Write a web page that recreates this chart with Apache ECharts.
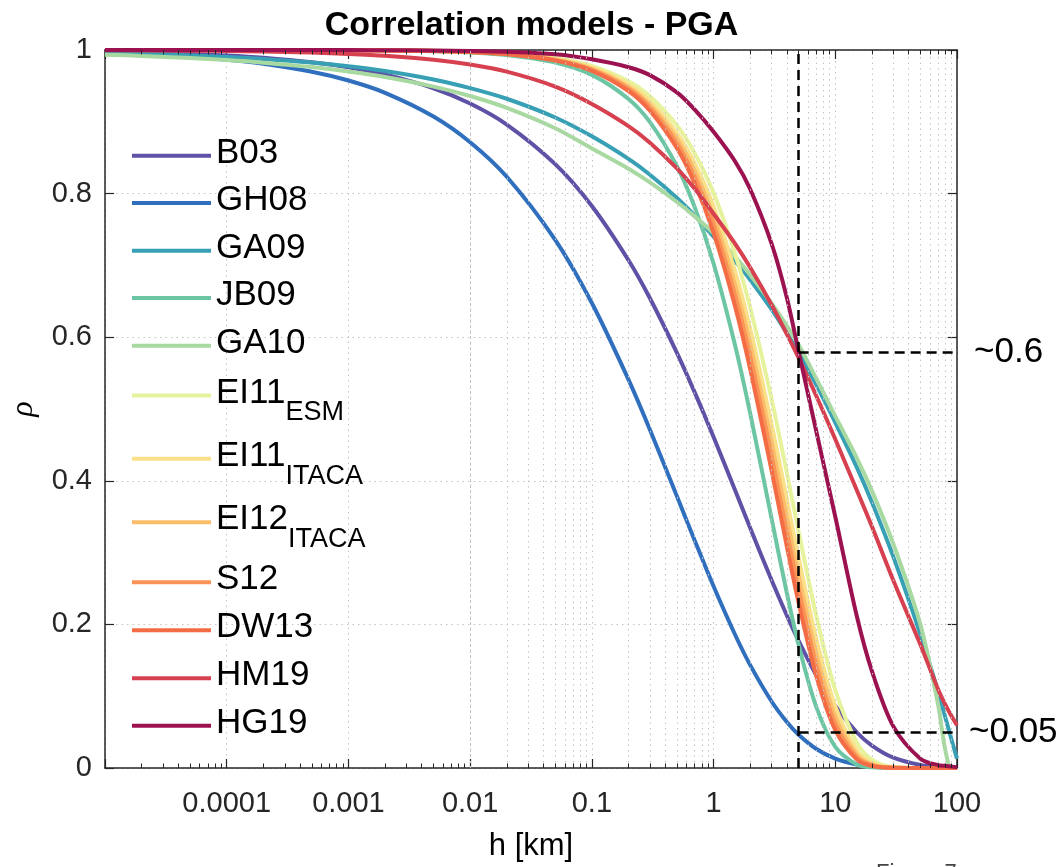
<!DOCTYPE html>
<html>
<head>
<meta charset="utf-8">
<title>Correlation models - PGA</title>
<script src="https://cdn.jsdelivr.net/npm/echarts@6/dist/echarts.min.js"></script>
<style>
  html, body { margin: 0; padding: 0; background: #fff; }
  #chart { width: 1063px; height: 867px; }
</style>
</head>
<body>
<div id="chart"></div>
<script>
// separation distance h [km] (x)
const distances = [0.00001, 0.00002, 0.00005, 0.0001, 0.0002, 0.0005, 0.001, 0.002, 0.005, 0.01, 0.02, 0.05, 0.1, 0.2, 0.3, 0.5, 0.7, 1, 1.5, 2, 3, 4, 5, 7, 10, 15, 20, 30, 50, 70, 80, 90, 100];

// correlation rho, one value per distance
const b03 = [0.9976, 0.9965, 0.9945, 0.9923, 0.9891, 0.9828, 0.9758, 0.966, 0.9467, 0.9255, 0.8962, 0.841, 0.7827, 0.7072, 0.6543, 0.5783, 0.5231, 0.4609, 0.3873, 0.3344, 0.2614, 0.2124, 0.1769, 0.1288, 0.0864, 0.0498, 0.0313, 0.0144, 0.0042, 0.0015, 0.001, 0.0006, 0.0004];
const gh08 = [0.9957, 0.9939, 0.9903, 0.9864, 0.9808, 0.9697, 0.9575, 0.9404, 0.9074, 0.8716, 0.8234, 0.7355, 0.6476, 0.5409, 0.4712, 0.3785, 0.3168, 0.2531, 0.1859, 0.1433, 0.0926, 0.064, 0.0463, 0.0264, 0.013, 0.0049, 0.0021, 0.0005, 0.0001, 0, 0, 0, 0];
const ga09 = [0.996, 0.9947, 0.9925, 0.9903, 0.9875, 0.9825, 0.9774, 0.9708, 0.959, 0.9469, 0.9321, 0.906, 0.8798, 0.8483, 0.8262, 0.7939, 0.7693, 0.74, 0.7062, 0.6801, 0.6386, 0.6055, 0.5783, 0.5333, 0.4812, 0.419, 0.37, 0.294, 0.186, 0.106, 0.071, 0.04, 0.013];
const jb09 = [1, 1, 1, 1, 0.9999, 0.9998, 0.9996, 0.9993, 0.9982, 0.9965, 0.993, 0.9825, 0.9653, 0.9318, 0.8995, 0.8381, 0.781, 0.7026, 0.589, 0.4937, 0.3469, 0.2437, 0.1712, 0.0845, 0.0294, 0.005, 0.0009, 0, 0, 0, 0, 0, 0];
const ga10 = [0.9934, 0.9918, 0.9888, 0.986, 0.9824, 0.9762, 0.97, 0.9623, 0.949, 0.9359, 0.9194, 0.891, 0.8629, 0.8347, 0.8156, 0.7883, 0.7683, 0.7447, 0.7123, 0.6869, 0.647, 0.6158, 0.5896, 0.542, 0.49, 0.432, 0.386, 0.312, 0.2, 0.088, 0.0255, 0, 0];
const ei11Esm = [1, 1, 1, 1, 1, 0.9999, 0.9998, 0.9996, 0.9989, 0.9978, 0.9956, 0.989, 0.978, 0.9565, 0.9355, 0.8948, 0.856, 0.8007, 0.7165, 0.6412, 0.5134, 0.4111, 0.3292, 0.2111, 0.1084, 0.0357, 0.0117, 0.0013, 0, 0, 0, 0, 0];
const ei11Itaca = [1, 1, 1, 1, 1, 0.9999, 0.9998, 0.9995, 0.9988, 0.9975, 0.9951, 0.9878, 0.9757, 0.952, 0.9289, 0.8843, 0.8419, 0.782, 0.6916, 0.6115, 0.4782, 0.3739, 0.2924, 0.1789, 0.0856, 0.025, 0.0073, 0.0006, 0, 0, 0, 0, 0];
const ei12Itaca = [1, 1, 1, 1, 0.9999, 0.9999, 0.9997, 0.9995, 0.9987, 0.9974, 0.9948, 0.9869, 0.974, 0.9487, 0.9241, 0.8768, 0.8319, 0.7686, 0.6739, 0.5908, 0.454, 0.3489, 0.2682, 0.1585, 0.072, 0.0193, 0.0052, 0.0004, 0, 0, 0, 0, 0];
const s12 = [1, 1, 1, 1, 0.9999, 0.9999, 0.9997, 0.9994, 0.9986, 0.9972, 0.9945, 0.9862, 0.9726, 0.946, 0.92, 0.8703, 0.8233, 0.7575, 0.6592, 0.5738, 0.4346, 0.3292, 0.2494, 0.1431, 0.0622, 0.0155, 0.0039, 0.0002, 0, 0, 0, 0, 0];
const dw13 = [1, 1, 1, 1, 0.9999, 0.9999, 0.9997, 0.9994, 0.9985, 0.9971, 0.9941, 0.9854, 0.971, 0.9429, 0.9155, 0.8633, 0.814, 0.7452, 0.6433, 0.5553, 0.4138, 0.3084, 0.2298, 0.1276, 0.0528, 0.0121, 0.0028, 0.0002, 0, 0, 0, 0, 0];
const hm19 = [0.9996, 0.9994, 0.999, 0.9986, 0.9979, 0.9964, 0.9946, 0.992, 0.9864, 0.9797, 0.9698, 0.949, 0.9249, 0.894, 0.8709, 0.835, 0.8066, 0.772, 0.7303, 0.697, 0.645, 0.6045, 0.5711, 0.5177, 0.4578, 0.3871, 0.3363, 0.2611, 0.172, 0.1094, 0.0886, 0.0724, 0.0596];
const hg19 = [1, 1, 1, 1, 1, 1, 0.9999, 0.9997, 0.9993, 0.9987, 0.9975, 0.994, 0.987, 0.976, 0.965, 0.941, 0.917, 0.886, 0.845, 0.806, 0.73, 0.655, 0.58, 0.468, 0.35, 0.212, 0.135, 0.058, 0.013, 0.004, 0.003, 0.002, 0.001];

const modelNames = ['B03', 'GH08', 'GA09', 'JB09', 'GA10', 'EI11_ESM', 'EI11_ITACA', 'EI12_ITACA', 'S12', 'DW13', 'HM19', 'HG19'];
const modelValues = [b03, gh08, ga09, jb09, ga10, ei11Esm, ei11Itaca, ei12Itaca, s12, dw13, hm19, hg19];
const modelColors = ['#5e52a6', '#2f6fbe', '#38a0b4', '#6cc6a4', '#a7d9a0', '#e6f29c', '#fbe08a', '#fdbe6c', '#f99356', '#f36c45', '#d6404f', '#9c1250'];

const xTickLabels = ['0.0001', '0.001', '0.01', '0.1', '1', '10', '100'];

// dashed guides: cut-off distance and the two read-off levels
const cutoffDistance = 5;
const guideLevels = [0.579, 0.05];
const guideTexts = ['~0.6', '~0.05'];

const chart = echarts.init(document.getElementById('chart'));
const font = '"Liberation Sans", Arial, Helvetica, sans-serif';
const axisColor = '#262626';
const dots = { type: [1.5, 4], color: '#c4c4c4', width: 1 };

// legend rows (line centre y, px) as laid out in the figure
const legendRowY = [151.7, 199, 246.7, 294, 341.7, 397, 460.3, 523.7, 578.3, 626.3, 674.3, 721.7];

// minor log ticks 2..9 x 10^k
const minorX = [];
for (let e = -5; e < 2; e++) {
  for (let m = 2; m <= 9; m++) minorX.push(Number((m * Math.pow(10, e)).toPrecision(3)));
}

const legendLabel = (name) => {
  const [main, sub] = name.split('_');
  return sub ? `{n|${main}}{s|${sub}}` : `{n|${main}}`;
};

const tickLabel = (v) => {
  const s = String(Number(Number(v).toPrecision(6)));
  return xTickLabels.includes(s) ? s : '';
};

const logAxis = (position, showLabels) => ({
  type: 'log',
  logBase: 10,
  min: 0.00001,
  max: 100,
  splitNumber: 7,
  position: position,
  axisLine: { show: true, onZero: false, lineStyle: { color: axisColor, width: 1.5 } },
  axisTick: { show: true, inside: true, length: 9, lineStyle: { color: axisColor, width: 1.2 } },
  axisLabel: {
    show: showLabels, formatter: tickLabel, fontSize: 29, color: axisColor,
    fontFamily: font, margin: 21
  },
  splitLine: { show: showLabels, lineStyle: dots },
});

const yAxisBase = (position, showLabels) => ({
  type: 'value',
  min: 0,
  max: 1,
  interval: 0.2,
  position: position,
  axisLine: { show: true, onZero: false, lineStyle: { color: axisColor, width: 1.5 } },
  axisTick: { show: true, inside: true, length: 9, lineStyle: { color: axisColor, width: 1.2 } },
  axisLabel: {
    show: showLabels, fontSize: 29, color: axisColor, fontFamily: font, margin: 13,
    formatter: (v) => String(Number(v.toFixed(1)))
  },
  splitLine: { show: showLabels, lineStyle: dots },
});

const tickLen = 4.5 / 720;
const minorMarks = [];
minorX.forEach((v) => {
  minorMarks.push({ xAxis: v });
  minorMarks.push([
    { coord: [v, 0], lineStyle: { type: 'solid', color: axisColor, width: 1 } },
    { coord: [v, tickLen] }
  ]);
  minorMarks.push([
    { coord: [v, 1], lineStyle: { type: 'solid', color: axisColor, width: 1 } },
    { coord: [v, 1 - tickLen] }
  ]);
});

const guideMarks = [
  [{ coord: [cutoffDistance, 0] }, { coord: [cutoffDistance, 1] }],
];
guideLevels.forEach((lvl, i) => {
  guideMarks.push([
    { coord: [cutoffDistance, lvl] },
    {
      coord: [100, lvl],
      label: {
        show: true, position: 'end', formatter: guideTexts[i], fontSize: 35,
        color: '#000', fontFamily: font, distance: i === 0 ? 17 : 12
      }
    }
  ]);
});

const curveSeries = modelNames.map((name, i) => ({
  name: name,
  type: 'line',
  data: distances.map((h, j) => [h, modelValues[i][j]]),
  showSymbol: false,
  symbol: 'none',
  smooth: 0.3,
  z: 3,
  lineStyle: { width: 4, color: modelColors[i] },
  itemStyle: { color: modelColors[i] },
  emphasis: { disabled: true },
}));

// one legend block per model so each row sits where it does in the figure
const legends = modelNames.map((name, i) => ({
  data: [name],
  orient: 'vertical',
  left: 132,
  top: legendRowY[i] - (name.includes('_') ? 21.5 : 16),
  padding: 0,
  icon: 'rect',
  itemWidth: 79,
  itemHeight: 4,
  selectedMode: false,
  formatter: legendLabel,
  textStyle: {
    color: '#000',
    fontFamily: font,
    fontSize: 35,
    rich: {
      n: { fontSize: 35, lineHeight: 40, verticalAlign: 'top', color: '#000', fontFamily: font },
      s: { fontSize: 27, lineHeight: 27, padding: [24, 0, 0, 0], verticalAlign: 'top', color: '#000', fontFamily: font },
    },
  },
}));

chart.setOption({
  animation: false,
  backgroundColor: '#fff',
  title: {
    text: 'Correlation models - PGA',
    left: 'center',
    top: 4,
    textStyle: { fontSize: 34, fontWeight: 'bold', color: '#000', fontFamily: font },
  },
  grid: { left: 102, right: 106, top: 50, bottom: 96 },
  legend: legends,
  xAxis: [
    Object.assign(logAxis('bottom', true), {
      name: 'h [km]',
      nameLocation: 'middle',
      nameGap: 63,
      nameTextStyle: { fontSize: 31, color: '#000', fontFamily: font },
    }),
    logAxis('top', false),
  ],
  yAxis: [
    Object.assign(yAxisBase('left', true), {
      name: 'ρ',
      nameLocation: 'middle',
      nameRotate: 90,
      nameGap: 65,
      nameTextStyle: { fontSize: 32, fontStyle: 'italic', color: '#000', fontFamily: '"Liberation Serif", serif' },
    }),
    yAxisBase('right', false),
  ],
  series: [
    {
      name: 'minorGrid',
      type: 'line',
      data: [],
      z: 1,
      silent: true,
      markLine: {
        silent: true,
        symbol: ['none', 'none'],
        label: { show: false },
        lineStyle: dots,
        animation: false,
        data: minorMarks,
      },
    },
    ...curveSeries,
    {
      name: 'guides',
      type: 'line',
      data: [],
      z: 5,
      silent: true,
      markLine: {
        silent: true,
        symbol: ['none', 'none'],
        label: { show: false },
        lineStyle: { color: '#000', type: [10, 6], width: 2.5 },
        animation: false,
        data: guideMarks,
      },
    },
  ],
  graphic: [
    {
      type: 'text', left: 876, top: 862,
      style: { text: 'Figure 7', fontSize: 22, fill: '#444', fontFamily: font },
    },
  ],
});
</script>
</body>
</html>
